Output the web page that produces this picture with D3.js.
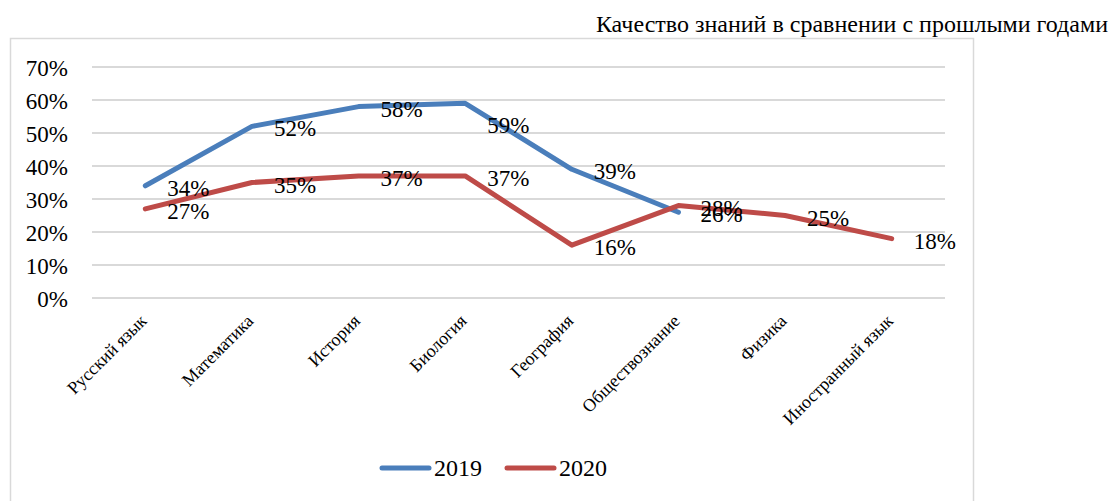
<!DOCTYPE html>
<html>
<head>
<meta charset="utf-8">
<script src="https://cdn.jsdelivr.net/npm/d3@7"></script>
<style>
  body { margin: 0; background: #fff; }
  svg text { font-family: "Times New Roman", "Liberation Serif", "DejaVu Serif", serif; fill: #000; }
</style>
</head>
<body>
<script>
var subjects = ["Русский язык", "Математика", "История", "Биология", "География", "Обществознание", "Физика", "Иностранный язык"];
var values2019 = [0.34, 0.52, 0.58, 0.59, 0.39, 0.26, null, null];
var values2020 = [0.27, 0.35, 0.37, 0.37, 0.16, 0.28, 0.25, 0.18];
var yTicks = [0, 0.1, 0.2, 0.3, 0.4, 0.5, 0.6, 0.7];
var seriesNames = ["2019", "2020"];
var colors = ["#4a7ebb", "#be4b48"];

var width = 1112, height = 501;
var serif = "'Times New Roman', 'Liberation Serif', 'DejaVu Serif', serif";
// labels moved by hand in the original (series index - point index -> px down)
var labelNudge = { "0-3": 20 };

var svg = d3.select("body").append("svg")
  .attr("width", width).attr("height", height);

// chart frame
svg.append("rect").attr("x", 10.5).attr("y", 38.5).attr("width", 963).attr("height", 470)
  .attr("fill", "none").attr("stroke", "#d9d9d9").attr("stroke-width", 1.5);

svg.append("text").attr("x", 1108).attr("y", 32).attr("text-anchor", "end")
  .style("font-family", serif)
  .style("font-size", "24px").text("Качество знаний в сравнении с прошлыми годами");

var x = d3.scalePoint().domain(subjects).range([92, 945]).padding(0.5);
var y = d3.scaleLinear().domain([0, 0.7]).range([298, 67]);

// gridlines
svg.append("g").selectAll("line").data(yTicks).enter().append("line")
  .attr("x1", 92).attr("x2", 945)
  .attr("y1", function (d) { return y(d); }).attr("y2", function (d) { return y(d); })
  .attr("stroke", "#d9d9d9").attr("stroke-width", 2);

// y axis
var yAxis = svg.append("g").attr("transform", "translate(72,0)")
  .call(d3.axisLeft(y).tickValues(yTicks).tickFormat(d3.format(".0%")).tickSize(0));
yAxis.attr("font-family", null).attr("font-size", null);
yAxis.select(".domain").remove();
yAxis.selectAll("text").style("font-size", "23px").style("font-family", serif)
  .attr("x", -4).attr("dy", "0.35em");

// x axis labels
var xAxis = svg.append("g").attr("transform", "translate(0,306)")
  .call(d3.axisBottom(x).tickSize(0));
xAxis.attr("font-family", null).attr("font-size", null);
xAxis.select(".domain").remove();
xAxis.selectAll("text").style("font-size", "18px").style("font-family", serif)
  .attr("text-anchor", "end").attr("dy", "0").attr("y", 0).attr("x", 0)
  .attr("transform", "translate(2,16) rotate(-45)");

var allSeries = [values2019, values2020];
var line = d3.line()
  .defined(function (d) { return d != null; })
  .x(function (d, i) { return x(subjects[i]); })
  .y(function (d) { return y(d); });

allSeries.forEach(function (vals, s) {
  svg.append("path").datum(vals)
    .attr("fill", "none").attr("stroke", colors[s]).attr("stroke-width", 5)
    .attr("stroke-linejoin", "round").attr("stroke-linecap", "round")
    .attr("d", line);
});

allSeries.forEach(function (vals, s) {
  svg.append("g").selectAll("text").data(vals).enter()
    .append("text")
    .filter(function (d) { return d != null; })
    .attr("x", function (d, i) { return x(subjects[i]) + 22; })
    .attr("y", function (d, i) { return y(d) + 2 + (labelNudge[s + "-" + i] || 0); })
    .attr("dy", "0.35em")
    .style("font-family", serif)
    .style("font-size", "23px")
    .text(function (d) { return Math.round(d * 100) + "%"; });
});

// legend
var legend = svg.append("g").attr("transform", "translate(380,468)");
seriesNames.forEach(function (name, s) {
  var g = legend.append("g").attr("transform", "translate(" + (s * 125) + ",0)");
  g.append("line").attr("x1", 2).attr("x2", 49).attr("y1", 0).attr("y2", 0)
    .attr("stroke", colors[s]).attr("stroke-width", 5).attr("stroke-linecap", "round");
  g.append("text").attr("x", 54).attr("y", 0).attr("dy", "0.35em")
    .style("font-family", serif)
    .style("font-size", "24px").text(name);
});
</script>
</body>
</html>
